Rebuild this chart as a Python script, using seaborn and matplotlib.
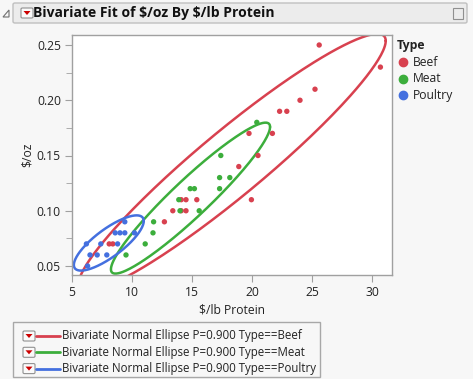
import numpy as np
import pandas as pd
import matplotlib
matplotlib.use("Agg")
import matplotlib.pyplot as plt
import seaborn as sns
from matplotlib.lines import Line2D
from matplotlib.patches import FancyBboxPatch, Rectangle, Polygon

# ---------------- data ----------------
beef_x = [25.6, 30.7, 25.25, 24.0, 22.3, 22.9, 19.75, 21.7, 20.5, 18.9, 19.95,
          14.1, 14.5, 15.4, 13.4, 14.1, 14.5, 12.7, 8.1, 8.4]
beef_y = [0.25, 0.23, 0.21, 0.20, 0.19, 0.19, 0.17, 0.17, 0.15, 0.14, 0.11,
          0.11, 0.11, 0.11, 0.10, 0.10, 0.10, 0.09, 0.07, 0.07]
meat_x = [20.4, 17.4, 17.3, 18.15, 17.3, 14.85, 15.2, 13.9, 14.0, 15.6, 11.8,
          11.75, 11.1, 9.5]
meat_y = [0.18, 0.15, 0.13, 0.13, 0.12, 0.12, 0.12, 0.11, 0.10, 0.10, 0.09,
          0.08, 0.07, 0.06]
poultry_x = [6.3, 6.5, 7.1, 7.9, 6.2, 7.4, 8.8, 8.6, 9.0, 9.4, 10.2, 9.4]
poultry_y = [0.05, 0.06, 0.06, 0.06, 0.07, 0.07, 0.07, 0.08, 0.08, 0.08, 0.08, 0.09]

types = ["Beef", "Meat", "Poultry"]
colors = {"Beef": "#d8414f", "Meat": "#3cae3c", "Poultry": "#4470df"}
x_ticks = [5, 10, 15, 20, 25, 30]
y_ticks = [0.05, 0.10, 0.15, 0.20, 0.25]
P = 0.900

df = pd.DataFrame({
    "x": beef_x + meat_x + poultry_x,
    "y": beef_y + meat_y + poultry_y,
    "Type": ["Beef"] * len(beef_x) + ["Meat"] * len(meat_x) + ["Poultry"] * len(poultry_x),
})

# ---------------- figure ----------------
W, H = 473, 379
BG = "#f7f7f7"
FS = 8.3
sns.set_style("white")
plt.rcParams["font.family"] = ["Open Sans", "DejaVu Sans"]
fig = plt.figure(figsize=(W / 100, H / 100), dpi=100, facecolor=BG)

def fx(px):
    return px / W

def fy(py):
    return 1 - py / H

ax = fig.add_axes([fx(72), fy(275), fx(392) - fx(72), (275 - 35) / H])
ax.set_facecolor("white")

sns.scatterplot(data=df, x="x", y="y", hue="Type", palette=colors, s=15,
                edgecolor="none", legend=False, ax=ax, zorder=3)

# bivariate normal ellipses
c = -2 * np.log(1 - P)
t = np.linspace(0, 2 * np.pi, 300)
for tp in types:
    sub = df[df["Type"] == tp]
    m = sub[["x", "y"]].mean().values
    cov = np.cov(sub["x"], sub["y"])
    L = np.linalg.cholesky(cov)
    pts = m[:, None] + np.sqrt(c) * L @ np.vstack([np.cos(t), np.sin(t)])
    ax.plot(pts[0], pts[1], color=colors[tp], lw=1.8, zorder=2)

ax.set_xlim(5.0, 5 + 320 / 12)
ax.set_ylim(0.05 - 9 / 1105, 0.25 + 10 / 1105)
ax.set_xticks(x_ticks)
ax.set_yticks(y_ticks)
ax.set_yticks([0.075, 0.125, 0.175, 0.225], minor=True)
ax.set_yticklabels([f"{v:.2f}" for v in y_ticks])
ax.tick_params(axis="both", which="both", direction="out", color="#a0a0a0",
               labelsize=FS + 0.4, labelcolor="#222222", left=True, bottom=True, pad=3)
ax.tick_params(which="major", length=5)
ax.tick_params(which="minor", length=4)
for s in ax.spines.values():
    s.set_color("#a0a0a0")
    s.set_linewidth(1)
ax.set_xlabel("\\$/lb Protein", fontsize=FS + 0.4, color="#222222", labelpad=3)
ax.set_ylabel("\\$/oz", fontsize=FS + 0.4, color="#222222", labelpad=2)

# right legend
fig.text(fx(397), fy(45), "Type", fontsize=FS + 0.4, fontweight="bold", va="center", color="#222222")
for i, tp in enumerate(types):
    yy = fy(62 + i * 16.5)
    fig.add_artist(Line2D([fx(403)], [yy], marker="o", markersize=6, color=colors[tp],
                          linestyle="none", transform=fig.transFigure))
    fig.text(fx(413), yy, tp, fontsize=FS + 0.4, va="center", color="#222222")

# title bar
fig.add_artist(FancyBboxPatch((fx(13), fy(23)), fx(467) - fx(13), (23 - 3) / H,
                              boxstyle="round,pad=0,rounding_size=0.004",
                              facecolor="#ececec", edgecolor="#c0c0c0", lw=1,
                              transform=fig.transFigure))
fig.add_artist(Polygon([[fx(3), fy(17)], [fx(9), fy(17)], [fx(9), fy(10)]], closed=True,
                       facecolor="none", edgecolor="#707070", lw=0.8, transform=fig.transFigure))

def dropdown(px, py):
    fig.add_artist(FancyBboxPatch((fx(px), fy(py + 5)), 12 / W, 10 / H,
                                  boxstyle="round,pad=0,rounding_size=0.003",
                                  facecolor="#fafafa", edgecolor="#909090", lw=0.8,
                                  transform=fig.transFigure))
    fig.add_artist(Polygon([[fx(px + 2.5), fy(py - 2)], [fx(px + 9.5), fy(py - 2)],
                            [fx(px + 6), fy(py + 2)]], closed=True,
                           facecolor="#cc0000", edgecolor="none", transform=fig.transFigure))

dropdown(21, 13)
fig.text(fx(33), fy(13), "Bivariate Fit of \\$/oz By \\$/lb Protein", fontsize=10,
         fontweight="bold", va="center", color="#111111")
fig.add_artist(Rectangle((fx(453), fy(19)), 10 / W, 11 / H, facecolor="none",
                         edgecolor="#909090", lw=0.8, transform=fig.transFigure))

# bottom legend box
fig.add_artist(Rectangle((fx(13), fy(377)), (320 - 13) / W, (377 - 322) / H,
                         facecolor="#f7f7f7", edgecolor="#a8a8a8", lw=1,
                         transform=fig.transFigure))
for i, tp in enumerate(types):
    py = 336 + i * 16.3
    dropdown(23, py)
    fig.add_artist(Line2D([fx(36), fx(60)], [fy(py), fy(py)], color=colors[tp], lw=2,
                          transform=fig.transFigure))
    fig.text(fx(61.5), fy(py), f"Bivariate Normal Ellipse P={P:.3f} Type=={tp}",
             fontsize=FS, va="center", color="#222222")

fig.savefig("out.png", dpi=100, facecolor=BG)
